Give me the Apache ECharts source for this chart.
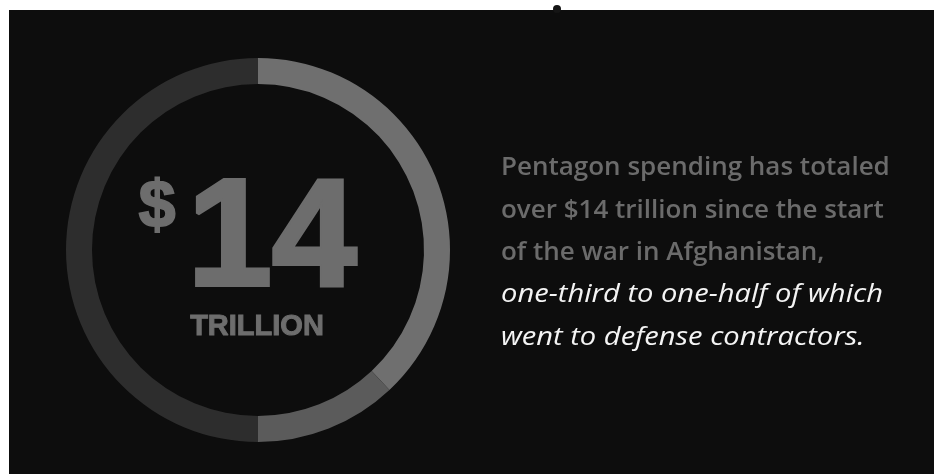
<!DOCTYPE html>
<html>
<head>
<meta charset="utf-8">
<script src="https://cdn.jsdelivr.net/npm/echarts@6/dist/echarts.min.js"></script>
<style>
html,body{margin:0;padding:0;background:#fff;}
#chart{width:943px;height:474px;}
</style>
</head>
<body>
<div id="chart"></div>
<script>
// Ring segments: share of the $14 trillion total (clockwise from 12 o'clock)
const segmentNames = ['One-third to contractors', 'Up to one-half to contractors', 'Remainder'];
const segmentValues = [38, 12, 50];
const segmentColors = ['#6f6f6f', '#5b5b5b', '#2d2d2d'];

const bigNumber = '14';
const bigUnit = 'TRILLION';
const currency = '$';

const greyLines = [
  'Pentagon spending has totaled',
  'over $14 trillion since the start',
  'of the war in Afghanistan,'
];
const whiteLines = [
  'one-third to one-half of which',
  'went to defense contractors.'
];

const chart = echarts.init(document.getElementById('chart'));

const lineBaseline0 = 181;
const lineGap = 42.3;
const textX = 501;

const textGraphics = [];
greyLines.forEach((t, i) => {
  textGraphics.push({
    type: 'text', x: textX, y: lineBaseline0 + i * lineGap, z: 10,
    style: {
      text: t, fill: '#6b6b6b',
      font: '600 26px "Open Sans", sans-serif',
      verticalAlign: 'bottom', align: 'left'
    }
  });
});
whiteLines.forEach((t, i) => {
  textGraphics.push({
    type: 'text', x: textX, y: lineBaseline0 + (greyLines.length + i) * lineGap, z: 10,
    scaleX: 1.12,
    style: {
      text: t, fill: '#f4f4f4',
      font: 'italic 500 26px "Open Sans", sans-serif',
      verticalAlign: 'bottom', align: 'left'
    }
  });
});

chart.setOption({
  backgroundColor: '#ffffff',
  animation: false,
  graphic: [
    { type: 'rect', z: -10, shape: { x: 9, y: 10, width: 925, height: 464 }, style: { fill: '#0d0d0d' } },
    { type: 'circle', z: -9, shape: { cx: 557, cy: 9, r: 4 }, style: { fill: '#151515' } },
    {
      type: 'text', x: 272, y: 243, z: 10,
      style: { text: bigNumber, fill: '#6d6d6d', stroke: '#6d6d6d', lineWidth: 4, font: 'bold 152px "Liberation Sans", sans-serif', align: 'center', verticalAlign: 'middle' }
    },
    {
      type: 'text', x: 157, y: 209, z: 10,
      style: { text: currency, fill: '#6d6d6d', stroke: '#6d6d6d', lineWidth: 2, font: 'bold 66px "Liberation Sans", sans-serif', align: 'center', verticalAlign: 'middle' }
    },
    {
      type: 'text', x: 257, y: 327, z: 10,
      style: { text: bigUnit, fill: '#6d6d6d', stroke: '#6d6d6d', lineWidth: 1, font: 'bold 29px "Liberation Sans", sans-serif', align: 'center', verticalAlign: 'middle' }
    }
  ].concat(textGraphics),
  series: [{
    type: 'pie',
    center: [258, 250],
    radius: [166, 192],
    startAngle: 90,
    clockwise: true,
    silent: true,
    label: { show: false },
    labelLine: { show: false },
    itemStyle: { borderWidth: 0 },
    data: segmentValues.map((v, i) => ({ name: segmentNames[i], value: v, itemStyle: { color: segmentColors[i] } }))
  }]
});
</script>
</body>
</html>
